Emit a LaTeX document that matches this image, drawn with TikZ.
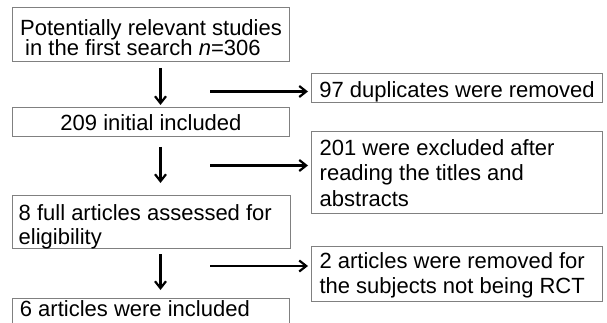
\documentclass[tikz,border=0pt]{standalone}
\usepackage{fontspec}
\setmainfont{Liberation Sans}
\usetikzlibrary{arrows.meta}
\newcommand\mytightlines{\lineskiplimit=-100pt\relax}
\begin{document}
\begin{tikzpicture}[x=1pt,y=-1pt,
  box/.style={draw=black!50, line width=1pt, rectangle, inner sep=0pt},
  txt/.style={inner sep=0pt, font=\fontsize{22}{25}\selectfont, align=left},
  flow/.style={line width=2.2pt, -{Straight Barb[length=7pt,width=11pt]}}]
\useasboundingbox (0,0) rectangle (607,323);
% boxes
\node[box, minimum width=276.3pt, minimum height=54.4pt] (b1) at (150.85,34.5) {};
\node[box, minimum width=276.3pt, minimum height=28.5pt] (b2) at (150.85,122.25) {};
\node[box, minimum width=277.3pt, minimum height=53.3pt] (b3) at (151.35,221.65) {};
\node[box, minimum width=276.3pt, minimum height=40pt] (b4) at (150.85,318) {};
\node[box, minimum width=290.3pt, minimum height=28.5pt] (r1) at (456.85,88.25) {};
\node[box, minimum width=290.3pt, minimum height=81.6pt] (r2) at (456.85,172.5) {};
\node[box, minimum width=290.3pt, minimum height=55pt] (r3) at (456.85,274.2) {};
% texts (base anchor = baseline of the last line)
\node[txt, anchor=base west, font={\fontsize{22}{19.5}\selectfont\mytightlines}] (t1) at (20,55.2) {Potentially relevant studies\\\hspace{5pt}in the first search \textit{n}=306};
\node[txt, anchor=base] (t2) at (151,130.7) {209 initial included};
\node[txt, anchor=base west, font=\fontsize{22}{24.5}\selectfont] (t3) at (18.5,244.5) {8 full articles assessed for\\eligibility};
\node[txt, anchor=base west] (t4) at (19.7,316.5) {6 articles were included};
\node[txt, anchor=base west] (u1) at (319.2,97.5) {97 duplicates were removed};
\node[txt, anchor=base west, font=\fontsize{22}{25.8}\selectfont] (u2) at (319.5,206.6) {201 were excluded after\\reading the titles and\\abstracts};
\node[txt, anchor=base west] (u3) at (319.3,293.3) {2 articles were removed for\\the subjects not being RCT};
% arrow end points
\coordinate (d1s) at (160.5,68);  \coordinate (d1e) at (160.5,105);
\coordinate (d2s) at (160.5,147); \coordinate (d2e) at (160.5,183);
\coordinate (d3s) at (160.5,254); \coordinate (d3e) at (160.5,290);
\coordinate (h1s) at (210,91.5);  \coordinate (h1e) at (308,91.5);
\coordinate (h2s) at (210,165.5); \coordinate (h2e) at (308,165.5);
\coordinate (h3s) at (210,266);   \coordinate (h3e) at (308,266);
\draw[flow] (d1s) -- (d1e);
\draw[flow] (d2s) -- (d2e);
\draw[flow] (d3s) -- (d3e);
\draw[flow] (h1s) -- (h1e);
\draw[flow] (h2s) -- (h2e);
\draw[flow] (h3s) -- (h3e);
\end{tikzpicture}
\end{document}
